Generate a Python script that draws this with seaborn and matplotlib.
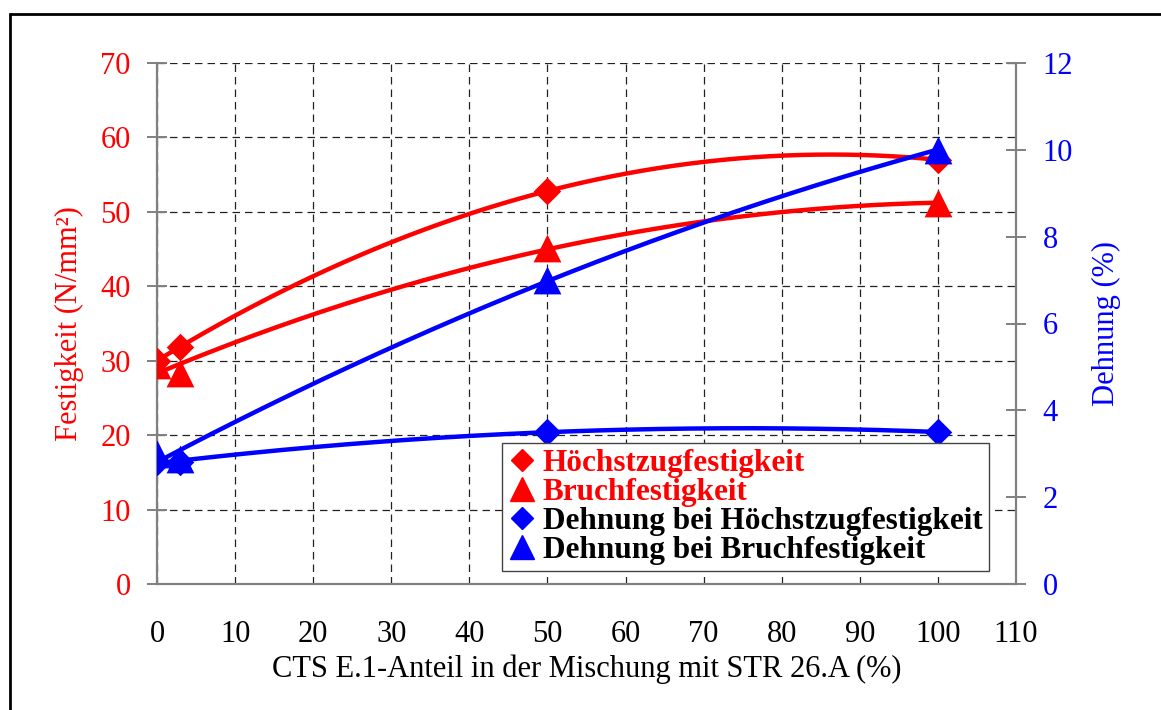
import numpy as np
import pandas as pd
import matplotlib
matplotlib.use("Agg")
import matplotlib.pyplot as plt
import seaborn as sns
from matplotlib.patches import Rectangle
from matplotlib.lines import Line2D

# Share of CTS E.1 in the blend (%)
anteil = [0, 3, 50, 100]
# Strength values (N/mm²)
hoechstzug = [30.0, 31.9, 52.8, 57.0]
bruch = [29.4, 28.4, 45.1, 51.2]
# Elongation values (%)
dehnung_hoechstzug = [2.81, 2.81, 3.50, 3.50]
dehnung_bruch = [3.0, 2.88, 7.0, 10.0]

x_ticks = list(range(0, 111, 10))
left_ticks = list(range(0, 71, 10))
right_ticks = list(range(0, 13, 2))

labels = ["Höchstzugfestigkeit", "Bruchfestigkeit",
          "Dehnung bei Höchstzugfestigkeit", "Dehnung bei Bruchfestigkeit"]

RED = "#FF0000"
BLUE = "#0000FF"
GRAY = "#808080"

sns.set_theme(style="white")
plt.rcParams["font.family"] = ["Liberation Serif", "DejaVu Serif"]

fig = plt.figure(figsize=(11.61, 7.10), dpi=100)
ax = fig.add_axes([157 / 1161, 1 - 584 / 710, (1016 - 157) / 1161, (584 - 63) / 710])
ax2 = ax.twinx()

df = pd.DataFrame({
    "anteil": anteil,
    "hoechstzug": hoechstzug,
    "bruch": bruch,
    "dehnung_hoechstzug": dehnung_hoechstzug,
    "dehnung_bruch": dehnung_bruch,
})

# second-order trendlines through each series
xs = np.linspace(min(anteil), max(anteil), 200)


def trend(col):
    coef = np.polyfit(df["anteil"], df[col], 2)
    return pd.DataFrame({"x": xs, "y": np.polyval(coef, xs)})


MS_D = 14
MS_T = 20

for target, col, color, marker, ms in [
    (ax, "hoechstzug", RED, "D", MS_D),
    (ax, "bruch", RED, "^", MS_T),
    (ax2, "dehnung_hoechstzug", BLUE, "D", MS_D),
    (ax2, "dehnung_bruch", BLUE, "^", MS_T),
]:
    sns.scatterplot(data=df, x="anteil", y=col, ax=target, color=color,
                    marker=marker, s=ms ** 2, linewidth=0, zorder=3, legend=False)
    t = trend(col)
    sns.lineplot(data=t, x="x", y="y", ax=target, color=color, lw=3.2,
                 zorder=4, legend=False)

# axes limits and ticks
ax.set_xlim(0, 110)
ax.set_ylim(0, 70)
ax2.set_ylim(0, 12)
ax.set_xticks(x_ticks)
ax.set_yticks(left_ticks)
ax2.set_yticks(right_ticks)

ax.grid(True, which="major", color="#222222", linestyle=(0, (6, 4)), linewidth=0.9)
ax.set_axisbelow(True)

for a in (ax, ax2):
    for s in a.spines.values():
        s.set_visible(False)
ax.spines["left"].set_visible(True)
ax.spines["bottom"].set_visible(True)
ax2.spines["right"].set_visible(True)
for s in (ax.spines["left"], ax.spines["bottom"], ax2.spines["right"]):
    s.set_color(GRAY)
    s.set_linewidth(1.6)

tick_kw = dict(direction="inout", length=14, width=1.4, color=GRAY, labelsize=22)
ax.tick_params(axis="x", pad=19, labelcolor="black", **tick_kw)
ax.tick_params(axis="y", pad=12, labelcolor=RED, left=True, **tick_kw)
ax2.tick_params(axis="y", pad=12, labelcolor=BLUE, right=True, **tick_kw)

ax.set_xlabel("CTS E.1-Anteil in der Mischung mit STR 26.A (%)", fontsize=22,
              color="black", labelpad=4)
ax.set_ylabel("Festigkeit (N/mm²)", fontsize=22, color=RED, labelpad=12)
ax2.set_ylabel("Dehnung (%)", fontsize=22, color=BLUE, labelpad=14)

# legend
handles = [
    Line2D([], [], linestyle="none", marker="D", color=RED, markersize=11.5),
    Line2D([], [], linestyle="none", marker="^", color=RED, markersize=17),
    Line2D([], [], linestyle="none", marker="D", color=BLUE, markersize=11.5),
    Line2D([], [], linestyle="none", marker="^", color=BLUE, markersize=17),
]
leg = ax2.legend(handles, labels, loc="lower left",
                 bbox_to_anchor=((502 - 157) / 859, (584 - 571) / 521),
                 prop={"family": ["Liberation Serif"], "weight": "bold", "size": 22.5},
                 frameon=True, fancybox=False, edgecolor="#444444",
                 framealpha=1, borderpad=0.2, labelspacing=0.0,
                 handlelength=0.9, handletextpad=0.2, borderaxespad=0)
leg.get_frame().set_linewidth(1.0)
for txt, c in zip(leg.get_texts(), [RED, RED, "black", "black"]):
    txt.set_color(c)
leg.set_zorder(10)

# outer frame around the figure
fig.patches.append(Rectangle((10 / 1161, -0.05), 1.2, 1 - 14 / 710 + 0.05,
                             transform=fig.transFigure, fill=False,
                             edgecolor="black", linewidth=2, clip_on=False))

fig.savefig("out.png", dpi=100, facecolor="white")
